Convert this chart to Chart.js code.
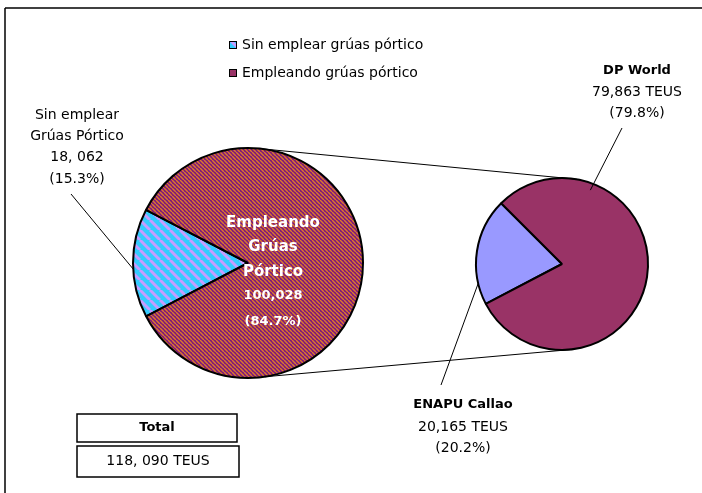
<!DOCTYPE html>
<html>
<head>
<meta charset="utf-8">
<script src="https://cdn.jsdelivr.net/npm/chart.js@4/dist/chart.umd.min.js"></script>
<style>
html, body { margin: 0; padding: 0; background: #fff; }
#wrap { position: relative; width: 702px; height: 493px; }
#wrap canvas { position: absolute; left: 0; top: 0; }
</style>
</head>
<body>
<div id="wrap">
  <canvas id="mainPie" width="702" height="493"></canvas>
  <canvas id="subPie" width="702" height="493"></canvas>
</div>
<script>
// data
const mainLabels = ['Sin emplear grúas pórtico', 'Empleando grúas pórtico'];
const mainValues = [18062, 100028];
const mainPct = ['(15.3%)', '(84.7%)'];
const subLabels = ['ENAPU Callao', 'DP World'];
const subValues = [20165, 79863];
const subPct = ['(20.2%)', '(79.8%)'];
const totalText = '118, 090 TEUS';

const FONT = '"DejaVu Sans", sans-serif';

// diagonal hatch like the excel fill patterns
function stripes(bg, fg, size, width) {
    const c = document.createElement('canvas');
    c.width = c.height = size;
    const g = c.getContext('2d');
    g.fillStyle = bg;
    g.fillRect(0, 0, size, size);
    g.strokeStyle = fg;
    g.lineWidth = width;
    for (const o of [-size, 0, size]) {
        g.beginPath();
        g.moveTo(o, 0);
        g.lineTo(o + size, size);
        g.stroke();
    }
    return g.createPattern(c, 'repeat');
}

const ctxA = document.getElementById('mainPie').getContext('2d');
const cyanHatch = stripes('#33ccff', '#c79cff', 10, 3);
const plumHatch = stripes('#7a1480', '#dc7a2a', 4, 1.5);

function text(ctx, str, x, y, font, color, align) {
    ctx.font = font;
    ctx.fillStyle = color || '#000';
    ctx.textAlign = align || 'center';
    ctx.textBaseline = 'middle';
    ctx.fillText(str, x, y);
}

function line(ctx, x1, y1, x2, y2, w) {
    ctx.beginPath();
    ctx.moveTo(x1, y1);
    ctx.lineTo(x2, y2);
    ctx.lineWidth = w || 1;
    ctx.strokeStyle = '#000';
    ctx.stroke();
}

// point on a pie edge, angle in degrees (canvas style), k = fraction of radius
function edge(arc, deg, k) {
    const a = deg * Math.PI / 180;
    const r = arc.outerRadius * (k || 1);
    return [arc.x + Math.cos(a) * r, arc.y + Math.sin(a) * r];
}

const mainDecor = {
    id: 'mainDecor',
    afterDraw(chart) {
        const ctx = chart.ctx;
        const arc = chart.getDatasetMeta(0).data[0];
        ctx.save();
        // frame
        line(ctx, 5, 8, 702, 8, 1.5);
        line(ctx, 5, 8, 5, 493, 1.5);

        // legend
        const sw = [cyanHatch, '#993366'];
        mainLabels.forEach((lab, i) => {
            const y = 45 + i * 28;
            ctx.fillStyle = sw[i];
            ctx.fillRect(229, y - 4, 8, 8);
            ctx.lineWidth = 1;
            ctx.strokeStyle = '#000';
            ctx.strokeRect(229.5, y - 3.5, 7, 7);
            text(ctx, lab, 242, y, '14px ' + FONT, '#000', 'left');
        });

        // outside label of the small slice
        const lf = '14px ' + FONT;
        text(ctx, 'Sin emplear', 77, 115, lf);
        text(ctx, 'Grúas Pórtico', 77, 136, lf);
        text(ctx, mainValues[0].toLocaleString('en-US').replace(',', ', '), 77, 157, lf);
        text(ctx, mainPct[0], 77, 179, lf);
        const p = edge(arc, 177);
        line(ctx, 71, 194, p[0], p[1], 1);

        // inside label of the big slice
        const bf = 'bold 15px ' + FONT;
        const nf = 'bold 13px ' + FONT;
        text(ctx, 'Empleando', 273, 223, bf, '#fff');
        text(ctx, 'Grúas', 273, 247, bf, '#fff');
        text(ctx, 'Pórtico', 273, 272, bf, '#fff');
        text(ctx, mainValues[1].toLocaleString('en-US'), 273, 296, nf, '#fff');
        text(ctx, mainPct[1], 273, 322, nf, '#fff');

        // total boxes
        ctx.lineWidth = 1.5;
        ctx.strokeStyle = '#000';
        ctx.strokeRect(77, 414, 160, 28);
        ctx.strokeRect(77, 446, 162, 31);
        text(ctx, 'Total', 157, 428, 'bold 13px ' + FONT);
        text(ctx, totalText, 158, 461, '14px ' + FONT);
        ctx.restore();
    }
};

const mainChart = new Chart(ctxA, {
    type: 'pie',
    data: {
        labels: mainLabels,
        datasets: [{
            data: mainValues,
            backgroundColor: [cyanHatch, plumHatch],
            borderColor: '#000',
            borderWidth: 2
        }]
    },
    options: {
        responsive: false,
        animation: false,
        events: [],
        rotation: 242.4,
        layout: { padding: { left: 132, top: 147, right: 338, bottom: 114 } },
        plugins: { legend: { display: false }, tooltip: { enabled: false } }
    },
    plugins: [mainDecor]
});

const subDecor = {
    id: 'subDecor',
    afterDraw(chart) {
        const ctx = chart.ctx;
        const big = mainChart.getDatasetMeta(0).data[0];
        const small = chart.getDatasetMeta(0).data[0];
        ctx.save();
        // lines joining the two pies
        let a = edge(big, -83), b = edge(small, -80);
        line(ctx, a[0], a[1], b[0], b[1], 1);
        a = edge(big, 81.6); b = edge(small, 84.7);
        line(ctx, a[0], a[1], b[0], b[1], 1);

        const bf = 'bold 13px ' + FONT;
        const lf = '14px ' + FONT;
        // DP World
        text(ctx, subLabels[1], 637, 71, bf);
        text(ctx, subValues[1].toLocaleString('en-US') + ' TEUS', 637, 92, lf);
        text(ctx, subPct[1], 637, 113, lf);
        let p = edge(small, -69, 0.92);
        line(ctx, 622, 128, p[0], p[1], 1);
        // ENAPU
        text(ctx, subLabels[0], 463, 405, bf);
        text(ctx, subValues[0].toLocaleString('en-US') + ' TEUS', 463, 427, lf);
        text(ctx, subPct[0], 463, 448, lf);
        p = edge(small, 167);
        line(ctx, p[0], p[1], 441, 385, 1);
        ctx.restore();
    }
};

new Chart(document.getElementById('subPie').getContext('2d'), {
    type: 'pie',
    data: {
        labels: subLabels,
        datasets: [{
            data: subValues,
            backgroundColor: ['#9999ff', '#993366'],
            borderColor: '#000',
            borderWidth: 2
        }]
    },
    options: {
        responsive: false,
        animation: false,
        events: [],
        rotation: 242.4,
        layout: { padding: { left: 475, top: 177, right: 53, bottom: 142 } },
        plugins: { legend: { display: false }, tooltip: { enabled: false } }
    },
    plugins: [subDecor]
});
</script>
</body>
</html>
